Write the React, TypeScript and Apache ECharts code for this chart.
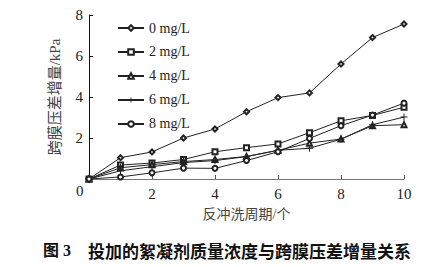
import React, { useEffect, useRef } from "react";
import * as echarts from "echarts";

const cycles = [0, 1, 2, 3, 4, 5, 6, 7, 8, 9, 10];
const seriesNames = ["0 mg/L", "2 mg/L", "4 mg/L", "6 mg/L", "8 mg/L"];
const s0 = [0, 1.04, 1.32, 2.0, 2.44, 3.28, 3.97, 4.2, 5.61, 6.9, 7.56];
const s2 = [0, 0.68, 0.78, 0.95, 1.33, 1.53, 1.71, 2.26, 2.84, 3.1, 3.5];
const s4 = [0, 0.55, 0.7, 0.85, 0.95, 1.1, 1.4, 1.75, 1.95, 2.6, 2.65];
const s6 = [0, 0.4, 0.6, 0.8, 0.9, 1.09, 1.4, 1.5, 1.94, 2.65, 3.02];
const s8 = [0, 0.1, 0.3, 0.53, 0.52, 0.9, 1.33, 1.98, 2.6, 3.12, 3.7];
const xTicks = [0, 2, 4, 6, 8, 10];
const yTicks = [0, 2, 4, 6, 8];

const plusPath = "path://M4.3,0H5.7V4.3H10V5.7H5.7V10H4.3V5.7H0V4.3H4.3Z";
const symbols = ["emptyDiamond", "emptyRect", "emptyTriangle", plusPath, "emptyCircle"];
const values = [s0, s2, s4, s6, s8];

const serif = "'Liberation Serif', 'Times New Roman', 'Noto Sans CJK SC', serif";

export default function App() {
  const ref = useRef<HTMLDivElement>(null);
  useEffect(() => {
    const chart = echarts.init(ref.current!, null, { renderer: "svg" });
    chart.setOption({
      animation: false,
      backgroundColor: "#fff",
      grid: { left: 89, top: 15, right: 32, bottom: 88 },
      legend: {
        orient: "vertical",
        left: 112,
        top: 16,
        itemWidth: 26,
        itemHeight: 7,
        itemGap: 10,
        data: seriesNames,
        textStyle: { fontFamily: serif, fontSize: 14, color: "#222" },
      },
      xAxis: {
        type: "value",
        min: xTicks[0],
        max: xTicks[xTicks.length - 1],
        interval: 2,
        name: "反冲洗周期/个",
        nameLocation: "middle",
        nameGap: 28,
        nameTextStyle: { fontFamily: serif, fontSize: 14, color: "#444" },
        axisLine: { lineStyle: { color: "#777", width: 1 } },
        axisTick: { inside: true, length: 4, lineStyle: { color: "#555" } },
        axisLabel: {
          fontFamily: serif,
          fontSize: 15,
          color: "#222",
          margin: 7,
          formatter: (v: number) => (v === 0 ? "" : String(v)),
        },
        splitLine: { show: false },
      },
      yAxis: {
        type: "value",
        min: yTicks[0],
        max: yTicks[yTicks.length - 1],
        interval: 2,
        name: "跨膜压差增量/kPa",
        nameLocation: "middle",
        nameGap: 27,
        nameTextStyle: { fontFamily: serif, fontSize: 15, color: "#444" },
        axisLine: { lineStyle: { color: "#111", width: 1 } },
        axisTick: { inside: true, length: 4, lineStyle: { color: "#111" } },
        axisLabel: {
          fontFamily: serif,
          fontSize: 15,
          color: "#222",
          margin: 6,
          formatter: (v: number) => (v === 0 ? "" : String(v)),
        },
        splitLine: { show: false },
      },
      graphic: [
        {
          type: "text",
          left: 76,
          top: 183,
          style: { text: "0", font: `15px ${serif}`, fill: "#222" },
        },
        {
          type: "text",
          left: 43,
          top: 242,
          style: {
            text: "图 3",
            font: "bold 16px 'Liberation Serif', 'Noto Sans CJK SC', serif",
            fill: "#111",
          },
        },
        {
          type: "text",
          left: 88,
          top: 242,
          style: {
            text: "投加的絮凝剂质量浓度与跨膜压差增量关系",
            font: "bold 17px 'Noto Sans CJK SC', sans-serif",
            fill: "#111",
          },
        },
      ],
      series: seriesNames.map((name, i) => ({
        name,
        type: "line",
        data: cycles.map((c, j) => [c, values[i][j]]),
        symbol: symbols[i],
        symbolSize: i === 3 ? 7 : 5,
        showSymbol: true,
        lineStyle: { color: "#222", width: 1 },
        itemStyle: i === 3
          ? { color: "#222", borderWidth: 0 }
          : { color: "#222", borderColor: "#222", borderWidth: 1 },
      })),
    });
    return () => chart.dispose();
  }, []);
  return (
    <div
      ref={ref}
      style={{ position: "fixed", left: 0, top: 0, width: 436, height: 267 }}
    />
  );
}
